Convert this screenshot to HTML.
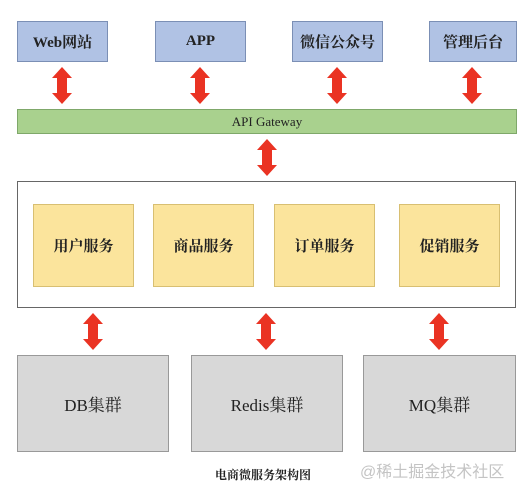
<!DOCTYPE html>
<html><head><meta charset="utf-8"><style>
body{margin:0;width:524px;height:494px;background:#fff;overflow:hidden;font-family:"Liberation Serif","Noto Serif CJK SC",serif}
.b{position:absolute;box-sizing:border-box;display:flex;align-items:center;justify-content:center;color:#222}
.t{background:#b0c2e4;border:1px solid #7b8fb5;font-size:15px;font-weight:bold;top:21px;height:41px;width:91px}
.y{background:#fbe49c;border:1px solid #d8bf72;font-size:15px;font-weight:bold;top:204px;height:83px;width:101px}
.g{background:#d8d8d8;border:1px solid #999;font-size:17px;top:355px;height:97px;width:152px}
</style></head><body>
<div class="b t" style="left:17px">Web网站</div>
<div class="b t" style="left:155px">APP</div>
<div class="b t" style="left:292px">微信公众号</div>
<div class="b t" style="left:429px;width:88px">管理后台</div>
<div class="b" style="left:17px;top:109px;width:500px;height:25px;background:#a9d18e;border:1px solid #7fa86a;font-size:13px">API Gateway</div>
<div class="b" style="left:17px;top:181px;width:499px;height:127px;border:1px solid #666;background:#fff"></div>
<div class="b y" style="left:33px">用户服务</div>
<div class="b y" style="left:153px">商品服务</div>
<div class="b y" style="left:274px">订单服务</div>
<div class="b y" style="left:399px">促销服务</div>
<div class="b g" style="left:17px">DB集群</div>
<div class="b g" style="left:191px">Redis集群</div>
<div class="b g" style="left:363px;width:153px">MQ集群</div>
<div style="position:absolute;left:215px;top:466px;font-size:12px;font-weight:bold;color:#222">电商微服务架构图</div>
<div style="position:absolute;left:360px;top:458px;font-size:16px;color:#c4c4c4;font-family:'Liberation Sans','Noto Sans CJK SC',sans-serif">@稀土掘金技术社区</div>
<svg width="524" height="494" style="position:absolute;left:0;top:0">
<defs><polygon id="a" points="0,0 10,11 5,11 5,26 10,26 0,37 -10,26 -5,26 -5,11 -10,11" fill="#ea3323"/></defs>
<use href="#a" x="62" y="67"/><use href="#a" x="200" y="67"/><use href="#a" x="337" y="67"/><use href="#a" x="472" y="67"/>
<use href="#a" x="267" y="139"/>
<use href="#a" x="93" y="313"/><use href="#a" x="266" y="313"/><use href="#a" x="439" y="313"/>
</svg>
</body></html>
